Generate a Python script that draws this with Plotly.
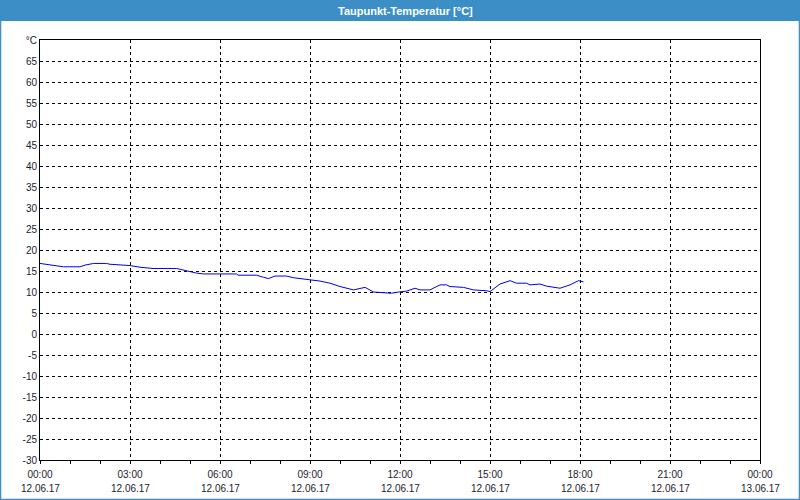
import plotly.graph_objects as go

times = ["00:00", "00:20", "00:47", "01:20", "01:30", "01:47", "02:13", "02:20", "02:37", "03:00",
         "03:20", "03:46", "04:33", "04:47", "05:13", "05:27", "06:33", "06:36", "07:13", "07:27",
         "07:37", "07:50", "08:13", "08:27", "08:47", "09:00", "09:20", "09:40", "10:00", "10:27",
         "10:40", "10:50", "11:07", "11:33", "11:43", "11:57", "12:13", "12:30", "12:40", "13:00",
         "13:20", "13:33", "13:40", "14:07", "14:27", "14:53", "15:00", "15:20", "15:40", "15:53",
         "16:13", "16:20", "16:40", "16:53", "17:20", "17:40", "17:57", "18:07"]
dewpoint = [16.8, 16.4, 16.0, 16.0, 16.4, 16.8, 16.8, 16.6, 16.5, 16.3,
            15.9, 15.6, 15.6, 15.2, 14.5, 14.3, 14.3, 14.0, 14.0, 13.5,
            13.2, 13.8, 13.8, 13.4, 13.1, 13.0, 12.6, 12.1, 11.3, 10.5,
            10.8, 11.1, 10.0, 9.8, 9.7, 10.0, 10.2, 10.9, 10.5, 10.5,
            11.7, 11.7, 11.3, 11.1, 10.5, 10.3, 10.1, 11.9, 12.7, 12.1,
            12.1, 11.7, 11.9, 11.4, 10.9, 11.7, 12.7, 12.4]

x_tick_vals = ["2017-06-12 00:00", "2017-06-12 03:00", "2017-06-12 06:00", "2017-06-12 09:00",
               "2017-06-12 12:00", "2017-06-12 15:00", "2017-06-12 18:00", "2017-06-12 21:00",
               "2017-06-13 00:00"]
x_tick_time = ["00:00", "03:00", "06:00", "09:00", "12:00", "15:00", "18:00", "21:00", "00:00"]
x_tick_date = ["12.06.17", "12.06.17", "12.06.17", "12.06.17", "12.06.17", "12.06.17",
               "12.06.17", "12.06.17", "13.06.17"]
y_tick_vals = list(range(-30, 75, 5))
y_tick_text = [str(v) for v in range(-30, 70, 5)] + ["°C"]

title_text = "Taupunkt-Temperatur [°C]"

x_dt = ["2017-06-12 " + t for t in times]

fig = go.Figure()
fig.add_trace(go.Scatter(x=x_dt, y=dewpoint, mode="lines",
                         line=dict(color="#0000ee", width=1), hoverinfo="skip"))

W, H = 800, 500
ml, mr, mt, mb = 40, 40, 40, 40
pw, ph = W - ml - mr, H - mt - mb

def px2paper_x(px):
    return (px - ml) / pw

def px2paper_y(py):
    return (H - mb - py) / ph

blue = "#3c8fc6"
txt = "#1c1c2c"
font = dict(family="Liberation Sans", size=10, color=txt)

annotations = [
    dict(text="<b>" + title_text + "</b>", xref="paper", yref="paper",
         x=px2paper_x(405), y=px2paper_y(10.5), xanchor="center", yanchor="middle",
         showarrow=False, font=dict(family="Liberation Sans", size=11, color="white")),
]
for xv, d in zip(x_tick_vals, x_tick_date):
    annotations.append(dict(text=d, xref="x", yref="paper", x=xv, y=px2paper_y(488.5),
                            xanchor="center", yanchor="middle", showarrow=False, font=font))

fig.update_layout(
    width=W, height=H,
    margin=dict(l=ml, r=mr, t=mt, b=mb, autoexpand=False),
    paper_bgcolor="#ffffff", plot_bgcolor="#ffffff",
    showlegend=False,
    font=font,
    xaxis=dict(
        type="date", automargin=False,
        range=["2017-06-12 00:00", "2017-06-13 00:00"],
        tickvals=x_tick_vals, ticktext=x_tick_time,
        showline=True, linecolor="black", linewidth=1, mirror=True,
        showgrid=True, gridcolor="black", gridwidth=1, griddash="3px,3px",
        ticks="outside", ticklen=3, tickcolor="black", ticklabelstandoff=2,
        minor=dict(dtick=3600000, ticks="outside", ticklen=3, tickcolor="black", showgrid=False),
        zeroline=False, tickangle=0, fixedrange=True,
    ),
    yaxis=dict(
        range=[-30, 70], automargin=False,
        tickvals=y_tick_vals, ticktext=y_tick_text,
        showline=True, linecolor="black", linewidth=1, mirror=True,
        showgrid=True, gridcolor="black", gridwidth=1, griddash="3px,3px",
        ticks="", ticklen=0,
        zeroline=False, fixedrange=True,
    ),
    shapes=[
        dict(type="rect", xref="paper", yref="paper",
             x0=px2paper_x(0), x1=px2paper_x(W), y0=px2paper_y(21), y1=px2paper_y(0),
             fillcolor=blue, line=dict(width=0), layer="above"),
        dict(type="rect", xref="paper", yref="paper",
             x0=px2paper_x(0.5), x1=px2paper_x(W - 0.5), y0=px2paper_y(H - 0.5), y1=px2paper_y(0.5),
             fillcolor="rgba(0,0,0,0)", line=dict(color=blue, width=1.5), layer="above"),
    ],
    annotations=annotations,
)

fig.write_html("out.html")
